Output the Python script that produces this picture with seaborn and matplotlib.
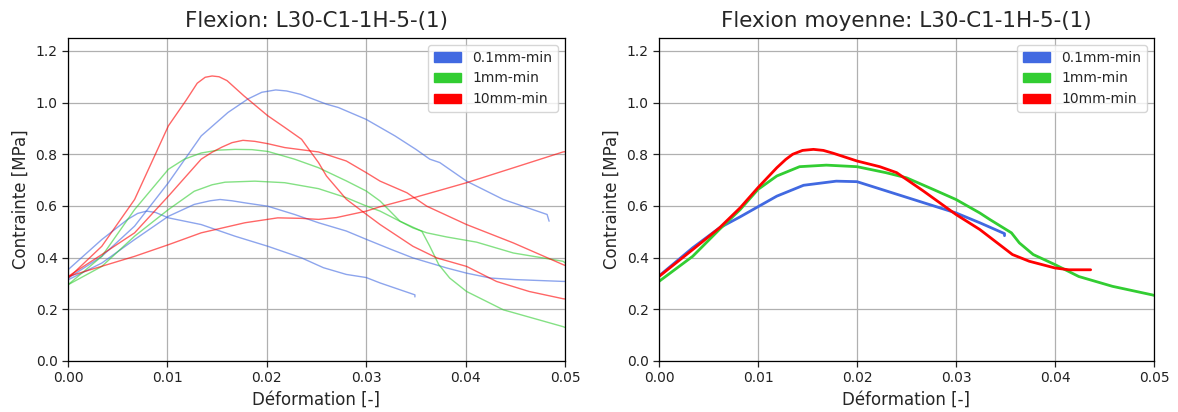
import numpy as np
import pandas as pd
import matplotlib
matplotlib.use("Agg")
import matplotlib.pyplot as plt
import matplotlib.patches as mpatches
import seaborn as sns

# ---------------- data ----------------
speeds = ["0.1mm-min", "1mm-min", "10mm-min"]
colors = {"0.1mm-min": "royalblue", "1mm-min": "limegreen", "10mm-min": "red"}

# Left panel: individual tests
blue_a_x = [0, 0.0034, 0.0067, 0.0101, 0.0134, 0.0161, 0.0181, 0.0195, 0.0209, 0.022, 0.0234, 0.026, 0.0272, 0.030, 0.0329, 0.0350, 0.0364, 0.0374, 0.0401, 0.0438, 0.0482, 0.0484]
blue_a_y = [0.32, 0.405, 0.522, 0.69, 0.871, 0.962, 1.014, 1.04, 1.049, 1.045, 1.032, 0.994, 0.981, 0.935, 0.871, 0.819, 0.781, 0.768, 0.696, 0.625, 0.567, 0.541]
blue_b_x = [0, 0.0034, 0.006, 0.007, 0.0079, 0.0088, 0.0101, 0.0134, 0.0168, 0.0201, 0.0235, 0.0257, 0.028, 0.030, 0.0314, 0.0349, 0.0349]
blue_b_y = [0.353, 0.47, 0.548, 0.571, 0.58, 0.575, 0.554, 0.528, 0.483, 0.444, 0.399, 0.361, 0.335, 0.323, 0.302, 0.256, 0.248]
blue_c_x = [0, 0.0034, 0.0067, 0.0101, 0.0127, 0.0143, 0.0153, 0.0165, 0.0178, 0.0201, 0.0228, 0.0252, 0.028, 0.030, 0.0325, 0.0347, 0.0381, 0.0401, 0.0425, 0.045, 0.0498, 0.05]
blue_c_y = [0.314, 0.379, 0.47, 0.56, 0.606, 0.62, 0.625, 0.62, 0.612, 0.599, 0.567, 0.535, 0.503, 0.471, 0.432, 0.399, 0.36, 0.34, 0.321, 0.315, 0.308, 0.308]

green_a_x = [0, 0.0034, 0.0067, 0.0101, 0.0117, 0.0134, 0.0151, 0.0168, 0.0185, 0.0201, 0.0228, 0.0252, 0.028, 0.030, 0.0314, 0.0334, 0.0356, 0.0364, 0.0373, 0.0384, 0.0401, 0.0438, 0.0498, 0.05]
green_a_y = [0.295, 0.405, 0.586, 0.742, 0.781, 0.805, 0.816, 0.819, 0.818, 0.811, 0.781, 0.748, 0.697, 0.658, 0.619, 0.541, 0.502, 0.444, 0.373, 0.321, 0.269, 0.198, 0.133, 0.13]
green_b_x = [0, 0.0034, 0.0067, 0.0101, 0.0127, 0.0145, 0.0158, 0.0188, 0.0218, 0.0252, 0.028, 0.030, 0.0314, 0.0347, 0.0361, 0.0381, 0.0411, 0.0448, 0.0498, 0.05]
green_b_y = [0.295, 0.366, 0.483, 0.586, 0.657, 0.682, 0.692, 0.696, 0.69, 0.667, 0.632, 0.60, 0.58, 0.515, 0.496, 0.48, 0.46, 0.418, 0.386, 0.38]

red_a_x = [0, 0.0034, 0.0067, 0.0101, 0.0119, 0.013, 0.0138, 0.0145, 0.0152, 0.016, 0.0177, 0.0201, 0.0218, 0.0235, 0.0241, 0.0252, 0.026, 0.028, 0.030, 0.0314, 0.0347, 0.0371, 0.0401, 0.0431, 0.0464, 0.0498, 0.05]
red_a_y = [0.32, 0.444, 0.625, 0.91, 1.01, 1.075, 1.098, 1.103, 1.1, 1.085, 1.026, 0.949, 0.904, 0.858, 0.826, 0.768, 0.716, 0.626, 0.568, 0.528, 0.444, 0.399, 0.366, 0.308, 0.269, 0.241, 0.24]
red_b_x = [0, 0.0034, 0.0067, 0.0101, 0.0134, 0.0145, 0.0155, 0.0165, 0.0176, 0.0188, 0.0201, 0.0218, 0.0252, 0.028, 0.030, 0.0314, 0.0341, 0.0361, 0.0401, 0.0448, 0.0498, 0.05]
red_b_y = [0.327, 0.412, 0.496, 0.638, 0.781, 0.808, 0.828, 0.845, 0.854, 0.85, 0.841, 0.826, 0.809, 0.774, 0.729, 0.696, 0.651, 0.599, 0.528, 0.457, 0.373, 0.37]
red_c_x = [0, 0.0067, 0.0101, 0.0134, 0.0178, 0.0211, 0.0235, 0.0252, 0.027, 0.030, 0.0314, 0.0348, 0.0401, 0.045, 0.0498, 0.05]
red_c_y = [0.327, 0.405, 0.45, 0.496, 0.535, 0.554, 0.552, 0.548, 0.555, 0.58, 0.597, 0.632, 0.69, 0.75, 0.809, 0.81]

# Right panel: mean curves
mean_blue_x = [0, 0.0034, 0.0061, 0.0082, 0.010, 0.0119, 0.0146, 0.0179, 0.020, 0.0219, 0.0257, 0.030, 0.0324, 0.0349, 0.0349]
mean_blue_y = [0.329, 0.438, 0.515, 0.558, 0.597, 0.638, 0.68, 0.696, 0.694, 0.671, 0.625, 0.573, 0.535, 0.493, 0.485]
mean_green_x = [0, 0.0034, 0.0061, 0.0082, 0.010, 0.0119, 0.0142, 0.0169, 0.020, 0.0229, 0.0250, 0.0277, 0.030, 0.0324, 0.0334, 0.0356, 0.0364, 0.0378, 0.040, 0.0424, 0.0458, 0.0498, 0.05]
mean_green_y = [0.308, 0.405, 0.509, 0.586, 0.664, 0.716, 0.752, 0.758, 0.752, 0.729, 0.709, 0.664, 0.625, 0.573, 0.548, 0.496, 0.457, 0.412, 0.373, 0.327, 0.289, 0.256, 0.254]
mean_red_x = [0, 0.0034, 0.0061, 0.0082, 0.010, 0.0119, 0.0128, 0.0135, 0.0145, 0.0156, 0.0166, 0.0176, 0.020, 0.0223, 0.0240, 0.0267, 0.030, 0.0324, 0.0357, 0.0374, 0.040, 0.0414, 0.0436]
mean_red_y = [0.327, 0.431, 0.515, 0.593, 0.671, 0.748, 0.78, 0.80, 0.815, 0.819, 0.815, 0.804, 0.774, 0.752, 0.729, 0.658, 0.567, 0.509, 0.412, 0.386, 0.36, 0.353, 0.353]

title_left = "Flexion: L30-C1-1H-5-(1)"
title_right = "Flexion moyenne: L30-C1-1H-5-(1)"
xlabel = "Déformation [-]"
ylabel = "Contrainte [MPa]"

# ---------------- tables ----------------
def build(series):
    frames = []
    for speed, test, xs, ys in series:
        frames.append(pd.DataFrame({"x": xs, "y": ys, "speed": speed, "test": test}))
    return pd.concat(frames, ignore_index=True)

left_df = build([
    ("0.1mm-min", "a", blue_a_x, blue_a_y),
    ("0.1mm-min", "b", blue_b_x, blue_b_y),
    ("0.1mm-min", "c", blue_c_x, blue_c_y),
    ("1mm-min", "a", green_a_x, green_a_y),
    ("1mm-min", "b", green_b_x, green_b_y),
    ("10mm-min", "a", red_a_x, red_a_y),
    ("10mm-min", "b", red_b_x, red_b_y),
    ("10mm-min", "c", red_c_x, red_c_y),
])
left_df["unit"] = left_df["speed"] + "_" + left_df["test"]

right_df = build([
    ("0.1mm-min", "m", mean_blue_x, mean_blue_y),
    ("1mm-min", "m", mean_green_x, mean_green_y),
    ("10mm-min", "m", mean_red_x, mean_red_y),
])

# ---------------- plot ----------------
sns.set_style("white")
plt.rcParams["font.family"] = ["DejaVu Sans"]

fig = plt.figure(figsize=(11.78, 4.12), dpi=100)
ax1 = fig.add_axes([68 / 1178, 1 - 361 / 412, 497 / 1178, 323 / 412])
ax2 = fig.add_axes([659 / 1178, 1 - 361 / 412, 495 / 1178, 323 / 412])

sns.lineplot(data=left_df, x="x", y="y", hue="speed", units="unit", estimator=None,
             sort=False, palette=colors, hue_order=speeds, lw=1.0, alpha=0.6,
             legend=False, ax=ax1)
sns.lineplot(data=right_df, x="x", y="y", hue="speed", units="test", estimator=None,
             sort=False, palette=colors, hue_order=speeds, lw=2.0,
             legend=False, ax=ax2)

for ax, title in [(ax1, title_left), (ax2, title_right)]:
    ax.set_xlim(0, 0.05)
    ax.set_ylim(0, 1.25)
    ax.set_xticks([0, 0.01, 0.02, 0.03, 0.04, 0.05])
    ax.set_xticklabels(["0.00", "0.01", "0.02", "0.03", "0.04", "0.05"])
    ax.set_yticks([0, 0.2, 0.4, 0.6, 0.8, 1.0, 1.2])
    ax.set_yticklabels(["0.0", "0.2", "0.4", "0.6", "0.8", "1.0", "1.2"])
    ax.grid(True, color="#b0b0b0", lw=0.9)
    ax.tick_params(axis="both", which="both", direction="out", length=4, width=0.9,
                   labelsize=10, colors="#222222", bottom=True, left=True)
    for s in ax.spines.values():
        s.set_color("black")
        s.set_linewidth(0.9)
    ax.set_title(title, fontsize=15.5, pad=8)
    ax.set_xlabel(xlabel, fontsize=12)
    ax.set_ylabel(ylabel, fontsize=12)
    handles = [mpatches.Patch(color=colors[s], label=s) for s in speeds]
    ax.legend(handles=handles, loc="upper right", fontsize=10, frameon=True)

fig.savefig("out.png", dpi=100)
